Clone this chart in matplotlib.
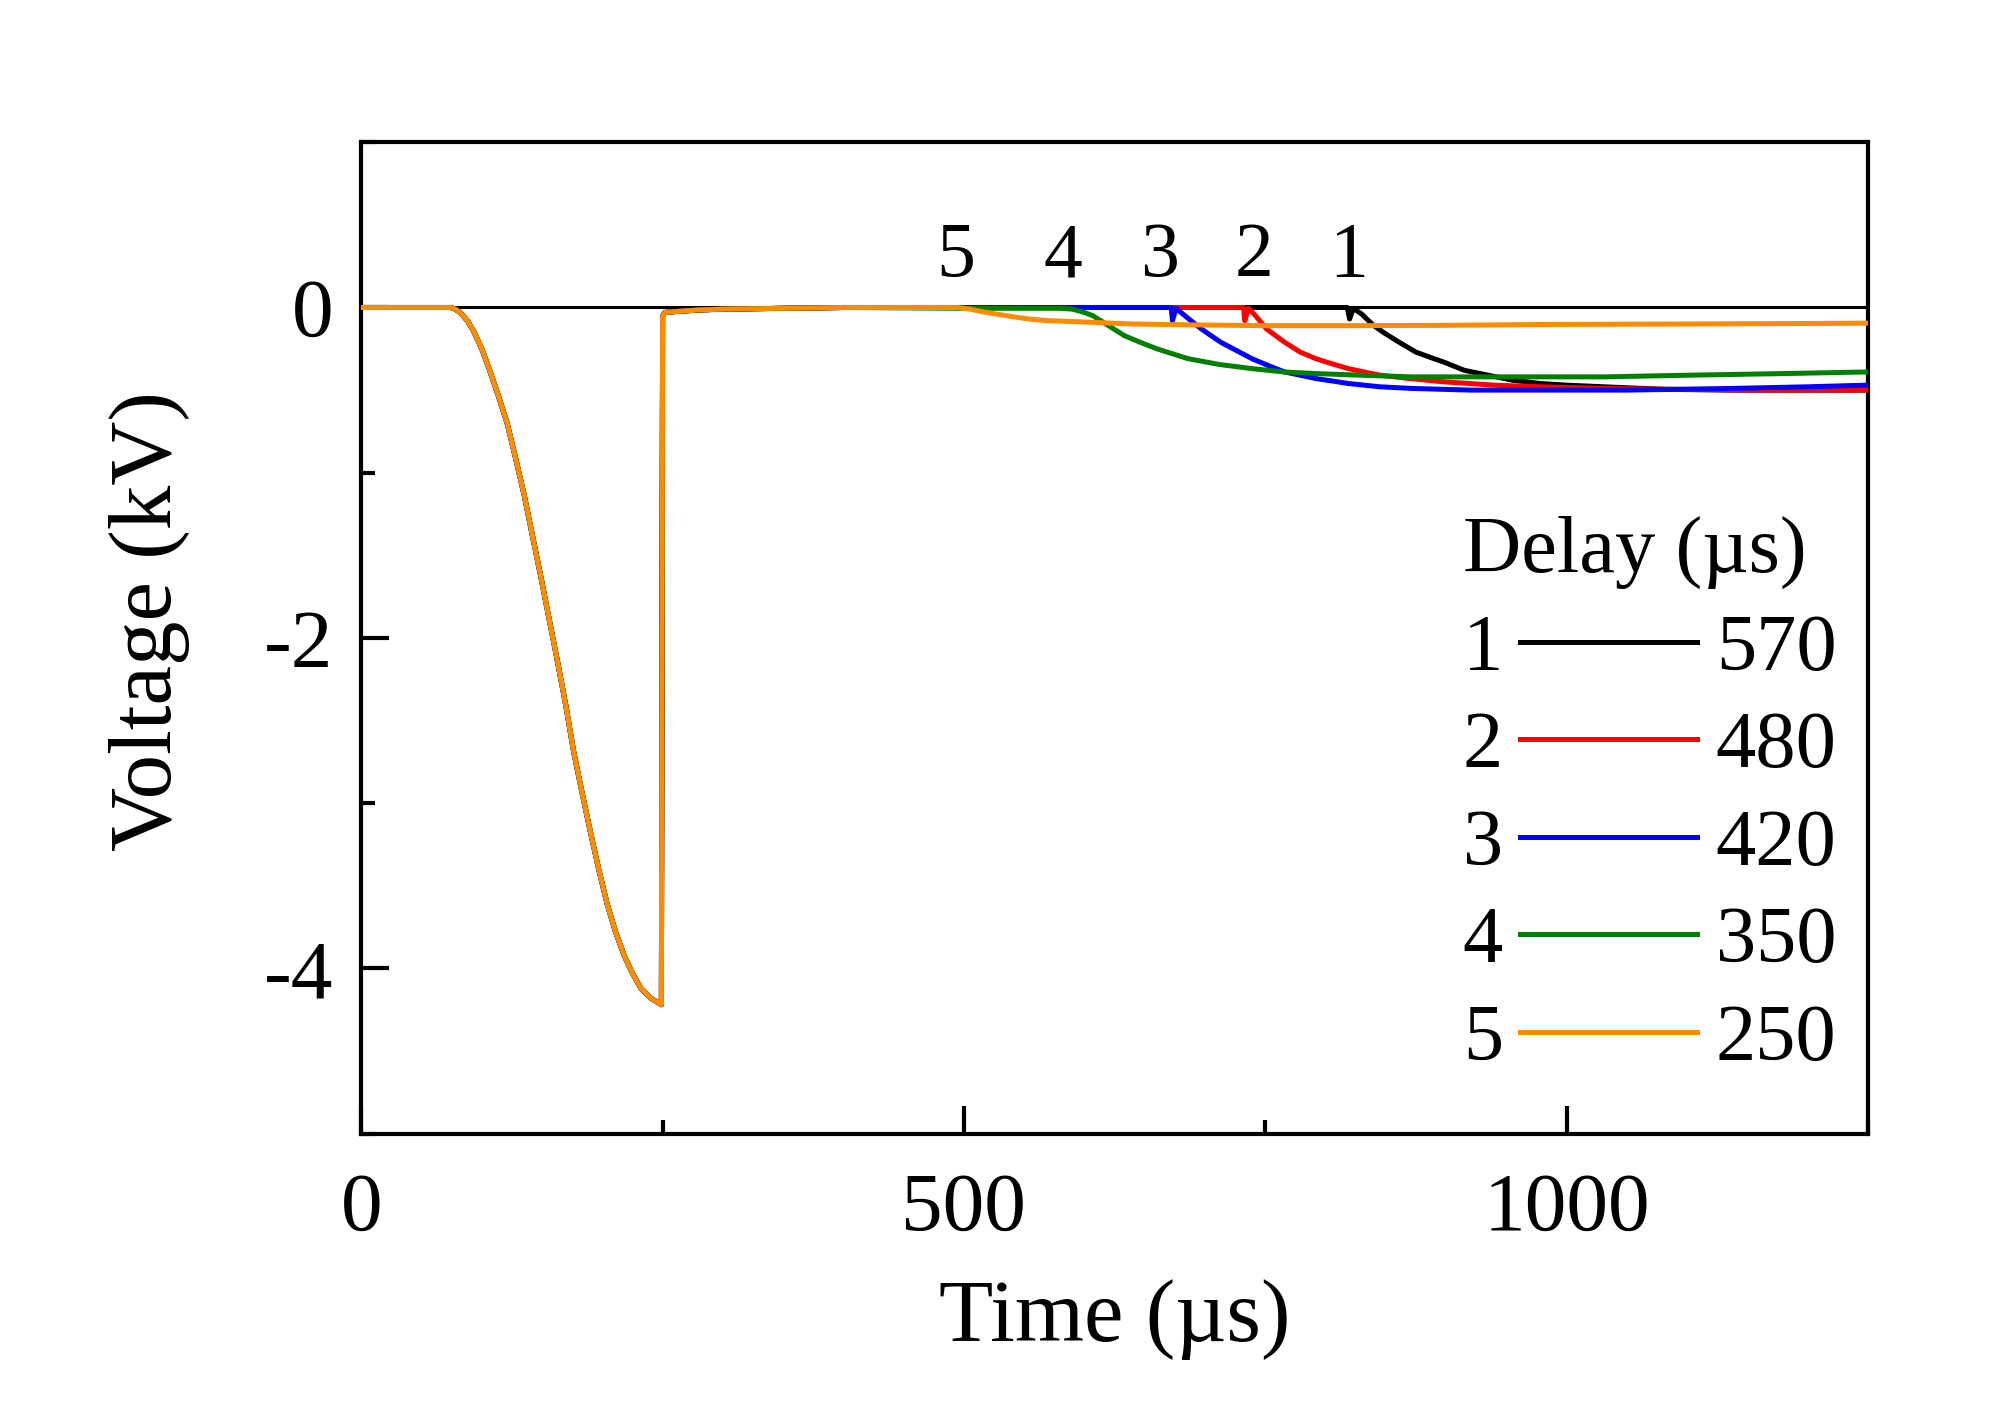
import numpy as np
import matplotlib
matplotlib.use("Agg")
import matplotlib.pyplot as plt
from matplotlib.lines import Line2D
from matplotlib.ticker import MultipleLocator

plt.rcParams['font.family'] = ['Liberation Serif', 'DejaVu Serif']
plt.rcParams['axes.unicode_minus'] = False

# common trigger pulse (same for all five shots), time in us, voltage in kV
pulse_t = [0, 70, 74, 78, 82, 88, 93, 100, 107, 114, 121, 128, 135, 142, 149,
           156, 163, 170, 176, 183, 190, 197, 204, 211, 218, 225, 232, 240,
           247, 249, 250, 252, 260, 280, 300, 350, 400]
pulse_v = [0, 0, 0, -0.01, -0.03, -0.08, -0.14, -0.25, -0.39, -0.54, -0.70,
           -0.91, -1.13, -1.38, -1.63, -1.89, -2.15, -2.42, -2.68, -2.93, -3.17,
           -3.40, -3.61, -3.78, -3.92, -4.03, -4.12, -4.18, -4.21, -4.22, -0.05,
           -0.03, -0.025, -0.015, -0.01, -0.005, 0]

# second part of each shot (after the delay)
t1 = [818, 820, 823, 830, 840, 850, 861, 875, 890, 898, 915, 935, 955, 978,
      1000, 1031, 1080, 1137, 1200, 1250]
v1 = [0, -0.07, -0.005, -0.04, -0.11, -0.16, -0.21, -0.27, -0.31, -0.33, -0.38,
      -0.41, -0.44, -0.46, -0.47, -0.48, -0.495, -0.50, -0.50, -0.50]

t2 = [732, 733, 736, 742, 751, 766, 779, 792, 805, 819, 845, 870, 898, 940,
      978, 1030, 1084, 1150, 1250]
v2 = [0, -0.08, -0.005, -0.05, -0.13, -0.21, -0.27, -0.31, -0.34, -0.37, -0.41,
      -0.43, -0.45, -0.47, -0.48, -0.49, -0.495, -0.50, -0.50]

t3 = [672, 673, 676, 685, 697, 713, 726, 739, 752, 766, 792, 819, 845, 872,
      920, 978, 1050, 1137, 1200, 1250]
v3 = [0, -0.08, -0.005, -0.06, -0.13, -0.21, -0.26, -0.31, -0.35, -0.39, -0.43,
      -0.46, -0.48, -0.49, -0.50, -0.50, -0.50, -0.49, -0.48, -0.47]

t4 = [500, 580, 590, 600, 607, 620, 633, 646, 660, 673, 686, 712, 739, 765,
      792, 830, 872, 950, 1031, 1100, 1180, 1250]
v4 = [-0.005, -0.005, -0.01, -0.03, -0.05, -0.11, -0.17, -0.21, -0.25, -0.28,
      -0.31, -0.345, -0.37, -0.39, -0.40, -0.41, -0.42, -0.42, -0.42, -0.41,
      -0.40, -0.39]

t5 = [495, 505, 515, 527, 540, 554, 570, 590, 607, 640, 686, 750, 819, 900,
      978, 1100, 1250]
v5 = [0, -0.01, -0.025, -0.04, -0.055, -0.07, -0.08, -0.085, -0.09, -0.10,
      -0.105, -0.11, -0.11, -0.108, -0.103, -0.10, -0.095]

numbers = ['1', '2', '3', '4', '5']
delays = ['570', '480', '420', '350', '250']
colors = ['black', '#ff0000', '#0000ff', '#008000', '#ff8c00']
late_t = [t1, t2, t3, t4, t5]
late_v = [v1, v2, v3, v4, v5]
# where the curve numbers are written above the zero line
label_t = [819, 741, 662, 582, 493]
label_v = 0.19

fig = plt.figure(figsize=(10.035, 7.085), dpi=200)
ax = fig.add_axes([0.18, 0.2, 0.7507, 0.6996])

ax.axhline(0, color='black', lw=1.1, zorder=1)

lines = []
for k in range(5):
    t = np.array(pulse_t + late_t[k])
    v = np.array(pulse_v + late_v[k])
    ln, = ax.plot(t, v, color=colors[k], lw=1.8, zorder=2 + k)
    lines.append(ln)
    ax.text(label_t[k], label_v, numbers[k], fontsize=28, ha='center',
            va='baseline')

ax.set_xlim(0, 1250)
ax.set_ylim(-5, 1)
ax.xaxis.set_major_locator(MultipleLocator(500))
ax.xaxis.set_minor_locator(MultipleLocator(250))
ax.yaxis.set_minor_locator(MultipleLocator(1))
ax.set_yticks([-4, -2, 0])
ax.tick_params(which='both', direction='in', top=False, right=False,
               width=1.5, labelsize=30)
ax.tick_params(axis='x', which='major', length=10, pad=14)
ax.tick_params(axis='y', which='major', length=10, pad=10)
ax.tick_params(which='minor', length=5)
for s in ax.spines.values():
    s.set_linewidth(1.5)

ax.set_xlabel('Time (µs)', fontsize=32)
ax.set_ylabel('Voltage (kV)', fontsize=32)
ax.xaxis.set_label_coords(0.5, -0.147)
ax.yaxis.set_label_coords(-0.1135, 0.517)

blank = [Line2D([], [], linestyle='none') for _ in range(5)]
leg = ax.legend(lines + blank, numbers + delays, ncol=2, markerfirst=False,
                title='Delay (µs)', title_fontsize=29, fontsize=29,
                frameon=False, loc='upper left', bbox_to_anchor=(0.731, 0.623),
                borderpad=0, borderaxespad=0, handlelength=2.2,
                handletextpad=0.21, columnspacing=0.23, labelspacing=0.3,
                alignment='left')
for h in leg.get_lines():
    h.set_linewidth(1.8)

fig.savefig('out.png', dpi=200)
